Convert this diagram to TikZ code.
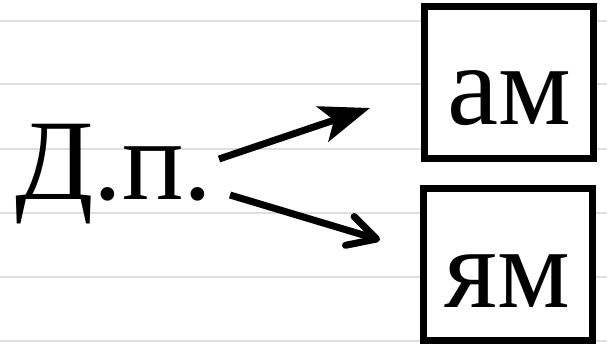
\documentclass[tikz,border=0pt]{standalone}
\usepackage{fontspec}
\setmainfont{Liberation Serif}
\usetikzlibrary{arrows.meta}
\begin{document}
\begin{tikzpicture}[x=1pt,y=-1pt,
  bigtext/.style={font=\fontsize{115}{118}\selectfont, inner sep=0pt},
  wordbox/.style={draw=black, fill=white, line width=7pt, inner sep=0pt,
    minimum width=169pt, minimum height=152pt, text height=100pt, text depth=15pt,
    font=\fontsize{115}{118}\selectfont},
  ruled/.style={draw=black!13, line width=2pt},
  conn/.style={line width=7pt}]
\useasboundingbox[fill=white] (0,0) rectangle (607,347);
\foreach \yy in {21,84,149,213,277,341}
  \draw[ruled] (0,\yy) -- (607,\yy);
\node[bigtext, anchor=base west] (dp) at (15,200) {Д.п.};
\node[wordbox] (am) at (509,82.5) {ам};
\node[wordbox] (yam) at (507.5,264.5) {ям};
\coordinate (s1) at (219,159);
\coordinate (t1) at (370,108);
\coordinate (s2) at (230,195);
\coordinate (t2) at (380,240);
\draw[conn, -{Stealth[length=50pt, width=37pt, inset=12pt]}] (s1) -- (t1);
\draw[conn, -{Straight Barb[length=28pt, width=30pt, round]}] (s2) -- (t2);
\end{tikzpicture}
\end{document}
